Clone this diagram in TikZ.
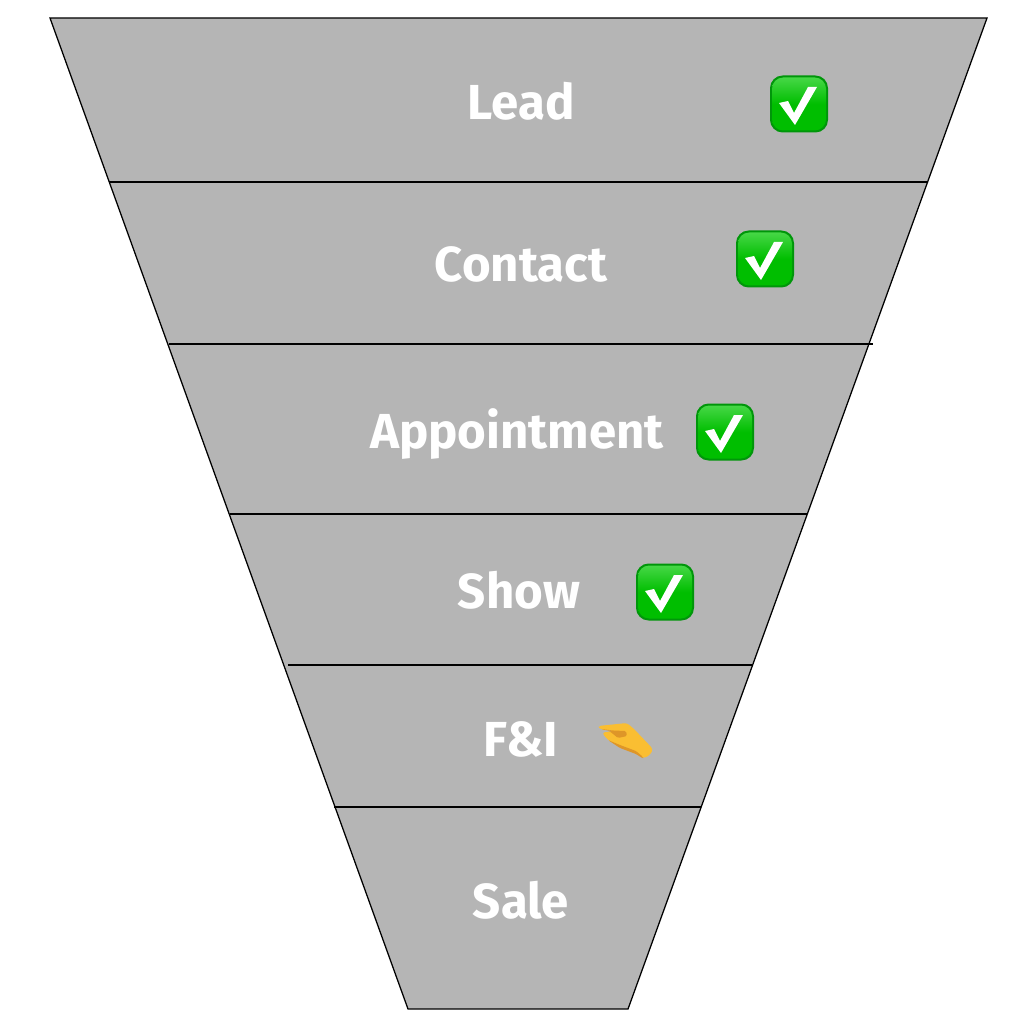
\documentclass[tikz,border=0pt]{standalone}
\usepackage{fontspec}
\setmainfont{Fira Sans}
\usepackage{tikz}
\definecolor{funnelGrey}{RGB}{181,181,181}
\definecolor{tickGreen}{RGB}{0,190,0}
\definecolor{tickEdge}{RGB}{0,150,10}
\definecolor{tickTop}{RGB}{70,215,70}
\definecolor{handYellow}{RGB}{250,190,50}
\definecolor{handShade}{RGB}{222,150,40}

\begin{document}
\begin{tikzpicture}[
        x=0.25mm,y=-0.25mm,
        stage/.style={font=\fontsize{35}{40}\selectfont\bfseries,text=white,anchor=base,inner sep=0pt}
      ]
        \useasboundingbox (0,0) rectangle (1018,1024);
        \filldraw[fill=funnelGrey,draw=black,line width=0.9pt,line join=miter]
          (50,18) -- (987,18) -- (628,1009) -- (408,1009) -- cycle;
        % dividers
        \foreach \i/\yl/\xl/\xr in {1/182/109/927,2/344/169/873,3/514/230/807,4/665/288/753,5/807/334/701}{
          \coordinate (dl\i) at (\xl,\yl);
          \coordinate (dr\i) at (\xr,\yl);
          \draw[line width=0.9pt] (dl\i) -- (dr\i);
        }
        \node[stage] (lead) at (521,120) {Lead};
        \node[stage] (contact) at (521,282) {Contact};
        \node[stage] (appointment) at (517,448) {Appointment};
        \node[stage] (show) at (519,608) {Show};
        \node[stage] (fni) at (521,756) {F\&I};
        \node[stage] (sale) at (521,918) {Sale};
        % ticks
        \foreach \cx/\cy in {799/104,765/259,725/432,665/592}{
          \begin{scope}[shift={(\cx,\cy)}]
            \fill[tickEdge,rounded corners=9pt] (-29,-28.5) rectangle (29,28.5);
            \shade[top color=tickTop,bottom color=tickGreen,middle color=tickGreen,rounded corners=8pt]
              (-27,-26.5) rectangle (27,26.5);
            \fill[white] (-20,-1) -- (-11,-3) -- (-5,9) -- (9,-17) -- (18,-17) -- (-4,21) -- cycle;
          \end{scope}
        }
        % hand
        \begin{scope}[shift={(580,700)}]
          \fill[handYellow,rounded corners=2pt] (18,26) -- (47,23) -- (54,29) -- (73,49) -- (70,55) -- (63,58.5)
            -- (56,53) -- (40,47) -- (28,40) -- (22,33) -- (28,31) -- (33,32) -- (20,29) -- cycle;
          \fill[handShade,rounded corners=1pt] (21,29) -- (33,30.5) -- (46,31) -- (47,36) -- (38,38) -- (30,31.5) -- cycle;
          \fill[handShade,rounded corners=1pt] (28,40) -- (40,45) -- (56,51) -- (63,57) -- (63,58.5) -- (56,54) -- (40,48) -- cycle;
          \fill[funnelGrey,rounded corners=1pt] (19,29.5) -- (32,31) -- (22,32.5) -- cycle;
        \end{scope}
      \end{tikzpicture}
\end{document}
